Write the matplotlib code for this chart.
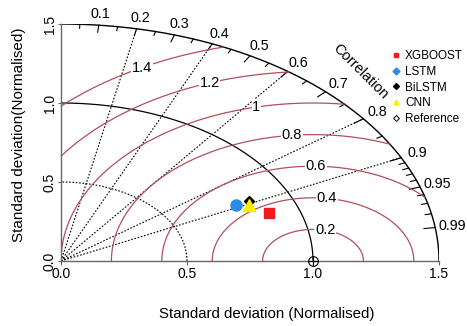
import numpy as np
import matplotlib
matplotlib.use("Agg")
import matplotlib.pyplot as plt
from matplotlib.lines import Line2D

plt.rcParams['font.family'] = ['Liberation Sans', 'DejaVu Sans']

# Modelos: desviacion estandar normalizada y correlacion con la referencia
modelos = ["XGBOOST", "LSTM", "BiLSTM", "CNN"]
desv_std = [0.879, 0.779, 0.837, 0.826]
correlacion = [0.938, 0.891, 0.891, 0.903]
colores = ["#ee1c1c", "#2b8de6", "black", "#ffee00"]
marcadores = ["s", "o", "D", "^"]

ref_std = 1.0
sd_max = 1.5
sd_ticks = [0.0, 0.5, 1.0, 1.5]
sd_etiquetas = ["0.0", "0.5", "1.0", "1.5"]

# Contornos de RMSD centrados en la referencia
rms_niveles = [0.2, 0.4, 0.6, 0.8, 1.0, 1.2, 1.4]
rms_etiquetas = ["0.2", "0.4", "0.6", "0.8", "1", "1.2", "1.4"]
rms_angulo_etiqueta = [76, 82, 89, 96, 103, 110, 119]

# Eje de correlacion
cor_mayores = [0.1, 0.2, 0.3, 0.4, 0.5, 0.6, 0.7, 0.8, 0.9, 0.95, 0.99]
cor_etiquetas = ["0.1", "0.2", "0.3", "0.4", "0.5", "0.6", "0.7", "0.8", "0.9", "0.95", "0.99"]
cor_menores = [0.05, 0.15, 0.25, 0.35, 0.45, 0.55, 0.65, 0.75, 0.85,
               0.91, 0.92, 0.93, 0.94, 0.96, 0.97, 0.98]
cor_lineas = [0.2, 0.4, 0.6, 0.8, 0.9]

color_rms = "#b0505c"

fig = plt.figure(figsize=(4.67, 3.26), dpi=100)
ax = fig.add_axes([61 / 467, (326 - 261) / 326, 378 / 467, (261 - 24) / 326])
ax.set_xlim(0, sd_max)
ax.set_ylim(0, sd_max)

t = np.linspace(0, np.pi / 2, 300)

# Arcos de desviacion estandar
ax.plot(sd_max * np.cos(t), sd_max * np.sin(t), color="black", lw=1.0)
ax.plot(ref_std * np.cos(t), ref_std * np.sin(t), color="black", lw=0.9)
ax.plot(0.5 * np.cos(t), 0.5 * np.sin(t), color="black", lw=0.8, ls=(0, (1.5, 1.5)))

# Lineas radiales de correlacion
for c in cor_lineas:
    th = np.arccos(c)
    ax.plot([0, sd_max * np.cos(th)], [0, sd_max * np.sin(th)],
            color="black", lw=0.8, ls=(0, (1.5, 1.5)))

# Marcas y etiquetas de correlacion
for c in cor_mayores:
    th = np.arccos(c)
    ax.plot([sd_max * np.cos(th), (sd_max - 0.045) * np.cos(th)],
            [sd_max * np.sin(th), (sd_max - 0.045) * np.sin(th)], color="black", lw=0.8)
for c in cor_menores:
    th = np.arccos(c)
    ax.plot([sd_max * np.cos(th), (sd_max - 0.025) * np.cos(th)],
            [sd_max * np.sin(th), (sd_max - 0.025) * np.sin(th)], color="black", lw=0.8)
for c, txt in zip(cor_mayores, cor_etiquetas):
    th = np.arccos(c)
    ax.text(1.57 * np.cos(th), 1.57 * np.sin(th), txt, ha="center", va="center",
            fontsize=10.3, clip_on=False)

ax.text(1.187, 1.196, "Correlation", rotation=-45, ha="center", va="center",
        fontsize=10.5, clip_on=False)

# Contornos RMSD
tc = np.linspace(0, np.pi, 600)
for r, txt, ang in zip(rms_niveles, rms_etiquetas, rms_angulo_etiqueta):
    x = ref_std + r * np.cos(tc)
    y = r * np.sin(tc)
    fuera = (x ** 2 + y ** 2 > sd_max ** 2) | (x < 0)
    x[fuera] = np.nan
    y[fuera] = np.nan
    ax.plot(x, y, color=color_rms, lw=0.9)
    a = np.radians(ang)
    ax.text(ref_std + r * np.cos(a), r * np.sin(a), txt, ha="center", va="center",
            fontsize=10.5, bbox=dict(boxstyle="square,pad=0.05", fc="white", ec="none"))

# Puntos de los modelos
tamanos = [7, 8, 5, 8]
for s, c, col, m, ms in zip(desv_std, correlacion, colores, marcadores, tamanos):
    th = np.arccos(c)
    ax.plot(s * np.cos(th), s * np.sin(th), marker=m, color=col, ms=ms,
            ls="none", zorder=5)

# Referencia
ax.plot(ref_std, 0, marker="o", mfc="none", mec="black", ms=7, mew=0.8, clip_on=False, zorder=6)
ax.plot(ref_std, 0, marker="+", color="black", ms=7, mew=0.8, clip_on=False, zorder=6)

# Ejes
for lado in ["top", "right"]:
    ax.spines[lado].set_visible(False)
for lado in ["left", "bottom"]:
    ax.spines[lado].set_color("#666666")
    ax.spines[lado].set_linewidth(1.0)
ax.set_xticks(sd_ticks)
ax.set_xticklabels(sd_etiquetas, fontsize=10)
ax.set_yticks(sd_ticks)
ax.set_yticklabels(sd_etiquetas, fontsize=10, rotation=90, va="center")
ax.tick_params(axis="x", length=3, pad=1, color="#666666")
ax.tick_params(axis="y", length=2, pad=1, color="#666666")

fig.text(267 / 467, 1 - 314 / 326, "Standard deviation (Normalised)", ha="center",
         va="center", fontsize=10.8)
fig.text(19 / 467, 1 - 135 / 326, "Standard deviation(Normalised)", ha="center",
         va="center", rotation=90, fontsize=11)

# Leyenda
manejadores = [Line2D([], [], marker=m, color=col, ls="none", ms=m_s)
               for col, m, m_s in zip(colores, ["s", "D", "D", "^"], [3.5, 3.5, 3, 3.5])]
manejadores.append(Line2D([], [], marker="D", mfc="none", mec="black", ls="none", ms=3, mew=0.7))
fig.legend(manejadores, modelos + ["Reference"], loc="upper left",
           bbox_to_anchor=(391 / 467, 1 - 50 / 326), frameon=False, fontsize=8.5,
           handlelength=0.8, handletextpad=0.4, borderpad=0, labelspacing=0.32,
           borderaxespad=0)

fig.savefig("out.png", dpi=100, facecolor="white")
